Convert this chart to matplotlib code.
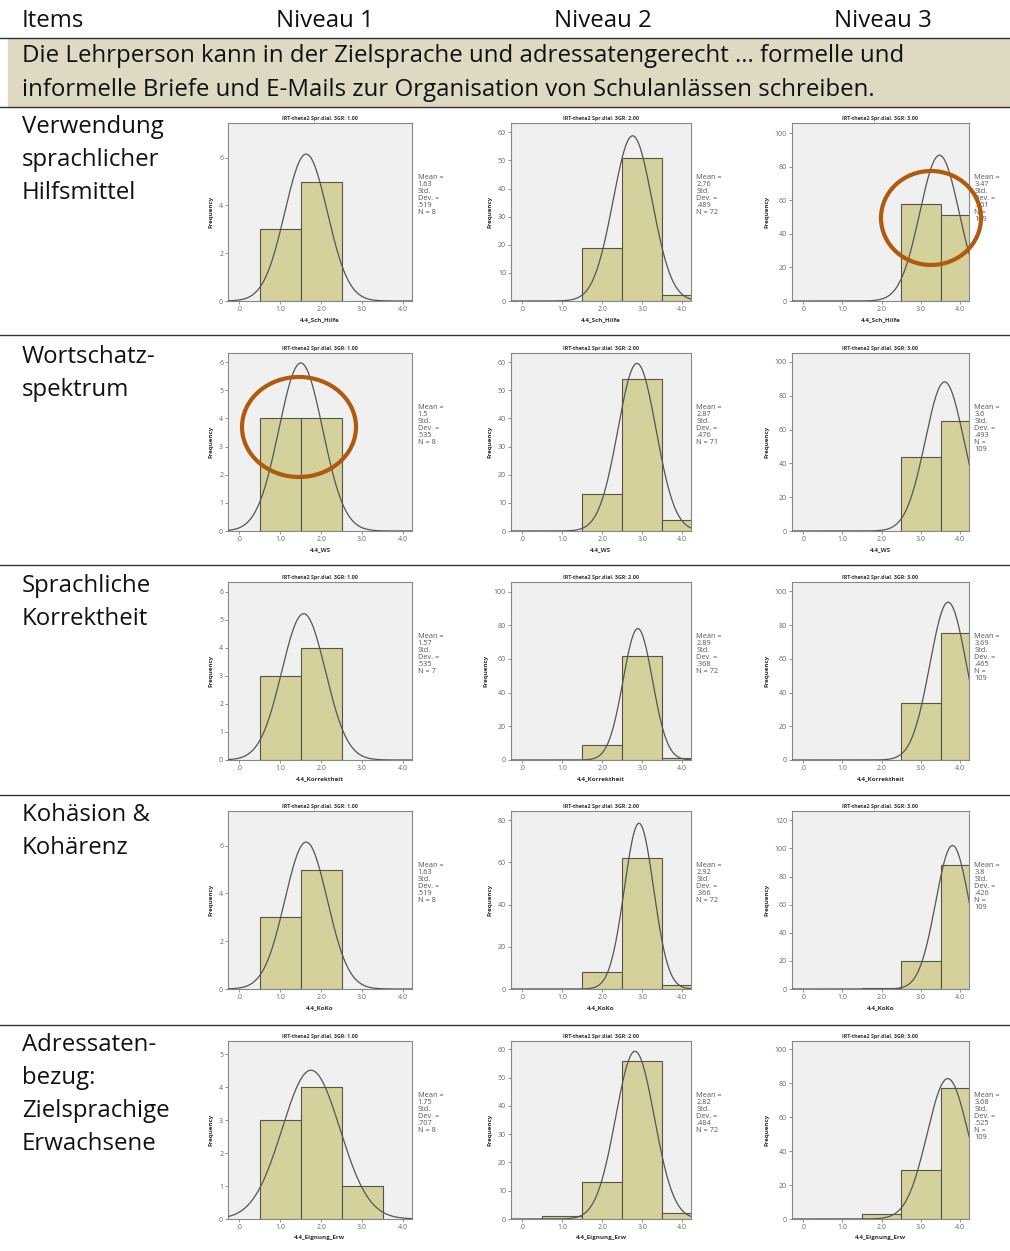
import numpy as np
import matplotlib
matplotlib.use("Agg")
import matplotlib.pyplot as plt
from matplotlib.patches import Ellipse, Rectangle

plt.rcParams['font.family'] = ['Open Sans', 'DejaVu Sans']

# Tabellen-Texte
header = ["Items", "Niveau 1", "Niveau 2", "Niveau 3"]
task = ("Die Lehrperson kann in der Zielsprache und adressatengerecht ... formelle und\n"
        "informelle Briefe und E-Mails zur Organisation von Schulanlässen schreiben.")
items = ["Verwendung\nsprachlicher\nHilfsmittel",
         "Wortschatz-\nspektrum",
         "Sprachliche\nKorrektheit",
         "Kohäsion &\nKohärenz",
         "Adressaten-\nbezug:\nZielsprachige\nErwachsene"]
var_names = ["4.4_Sch_Hilfe", "4.4_WS", "4.4_Korrektheit", "4.4_KoKo", "4.4_Eignung_Erw"]
group_titles = ["IRT-theta2 Spr.dial. 3GR: 1.00",
                "IRT-theta2 Spr.dial. 3GR: 2.00",
                "IRT-theta2 Spr.dial. 3GR: 3.00"]

# Häufigkeiten für die Werte 1, 2, 3, 4
values = [1, 2, 3, 4]
counts_n1 = [[3, 5, 0, 0], [4, 4, 0, 0], [3, 4, 0, 0], [3, 5, 0, 0], [3, 4, 1, 0]]
counts_n2 = [[0, 19, 51, 2], [0, 13, 54, 4], [0, 9, 62, 1], [0, 8, 62, 2], [1, 13, 56, 2]]
counts_n3 = [[0, 0, 58, 51], [0, 0, 44, 65], [0, 0, 34, 75], [0, 1, 20, 88], [0, 3, 29, 77]]

mean_n1 = ["1.63", "1.5", "1.57", "1.63", "1.75"]
mean_n2 = ["2.76", "2.87", "2.89", "2.92", "2.82"]
mean_n3 = ["3.47", "3.6", "3.69", "3.8", "3.68"]
sd_n1 = [".519", ".535", ".535", ".519", ".707"]
sd_n2 = [".489", ".476", ".368", ".366", ".484"]
sd_n3 = [".501", ".493", ".465", ".426", ".525"]
n_n1 = [8, 8, 7, 8, 8]
n_n2 = [72, 71, 72, 72, 72]
n_n3 = [109, 109, 109, 109, 109]

# y-Achse (Tick-Schritt, oberes Limit)
ystep_n1 = [2, 1, 1, 2, 1]
ystep_n2 = [10, 10, 20, 20, 10]
ystep_n3 = [20, 20, 20, 20, 20]
ytop_n1 = [7.45, 6.32, 6.35, 7.45, 5.4]
ytop_n2 = [63.3, 63.2, 105.7, 84.3, 63.0]
ytop_n3 = [106.0, 105.3, 105.5, 126.6, 105.0]

counts = [counts_n1, counts_n2, counts_n3]
means = [mean_n1, mean_n2, mean_n3]
sds = [sd_n1, sd_n2, sd_n3]
ns = [n_n1, n_n2, n_n3]
ysteps = [ystep_n1, ystep_n2, ystep_n3]
ytops = [ytop_n1, ytop_n2, ytop_n3]

W, H = 1010, 1251
fig = plt.figure(figsize=(W / 100, H / 100), dpi=100)

# Hintergrund-Achse in Pixelkoordinaten
bg = fig.add_axes([0, 0, 1, 1])
bg.set_xlim(0, W)
bg.set_ylim(H, 0)
bg.axis('off')

bg.add_patch(Rectangle((8, 38), W - 8, 69, color='#DDD9C3', zorder=0))
for y in [38, 107, 335, 565, 795, 1025]:
    bg.plot([0, W], [y, y], color='#333333', lw=1.0)

txt_size = 17.3
bg.text(22, 21, header[0], fontsize=txt_size, va='center', ha='left', color='#111111')
for x, h in zip([325, 603, 883], header[1:]):
    bg.text(x, 21, h, fontsize=txt_size, va='center', ha='center', color='#111111')
bg.text(22, 73, task, fontsize=txt_size, va='center', ha='left', color='#111111',
        linespacing=1.5)

row_tops = [123, 353, 582, 811, 1041]
col_left = [228, 511, 792]
col_right = [412, 691, 969]
box_h = 178

for r in range(5):
    bg.text(22, row_tops[r] - 8, items[r], fontsize=txt_size, va='top', ha='left',
            color='#111111', linespacing=1.5)

xs = np.linspace(-0.5, 4.5, 500)
for r in range(5):
    for c in range(3):
        left, right = col_left[c], col_right[c]
        top = row_tops[r]
        ax = fig.add_axes([left / W, 1 - (top + box_h) / H, (right - left) / W, box_h / H])
        ax.set_facecolor('#F0F0F0')
        cnt = counts[c][r]
        xv = [v for v, k in zip(values, cnt) if k > 0]
        kv = [k for k in cnt if k > 0]
        ax.bar(xv, kv, width=1.0, color='#D5D19D', edgecolor='#555544', linewidth=0.8,
               zorder=2)
        m, s, n = float(means[c][r]), float(sds[c][r]), ns[c][r]
        curve = n / (s * np.sqrt(2 * np.pi)) * np.exp(-0.5 * ((xs - m) / s) ** 2)
        ax.plot(xs, curve, color='#555555', lw=0.9, zorder=3)
        ax.set_xlim(-0.28, 4.22)
        ax.set_ylim(0, ytops[c][r])
        step = ysteps[c][r]
        ax.set_yticks(np.arange(0, ytops[c][r], step))
        ax.set_xticks([0, 1, 2, 3, 4])
        ax.set_xticklabels([".0", "1.0", "2.0", "3.0", "4.0"])
        ax.tick_params(labelsize=5, colors='#666666', length=2, width=0.5, pad=1.5)
        for sp in ax.spines.values():
            sp.set_color('#888888')
            sp.set_linewidth(0.8)
        ax.set_title(group_titles[c], fontsize=3.9, fontweight='bold', pad=2.5,
                     color='#333333')
        ax.set_xlabel(var_names[r], fontsize=4.5, fontweight='bold', labelpad=3,
                      color='#333333')
        ax.set_ylabel("Frequency", fontsize=4.5, fontweight='bold', labelpad=4,
                      color='#333333')
        if c == 2:
            stats = "Mean =\n%s\nStd.\nDev. =\n%s\nN =\n%d" % (means[c][r], sds[c][r], n)
        else:
            stats = "Mean =\n%s\nStd.\nDev. =\n%s\nN = %d" % (means[c][r], sds[c][r], n)
        ax.text(1.03, 0.715, stats, transform=ax.transAxes, fontsize=5.3, va='top',
                ha='left', color='#555555', linespacing=1.0, clip_on=False)

# Markierungen (Kreise)
ov = fig.add_axes([0, 0, 1, 1])
ov.set_xlim(0, W)
ov.set_ylim(H, 0)
ov.axis('off')
ov.add_patch(Ellipse((931, 218), 100, 94, fill=False, edgecolor='#B05A0E', lw=3))
ov.add_patch(Ellipse((299, 427), 114, 100, fill=False, edgecolor='#B05A0E', lw=3))

fig.savefig("out.png", dpi=100)
